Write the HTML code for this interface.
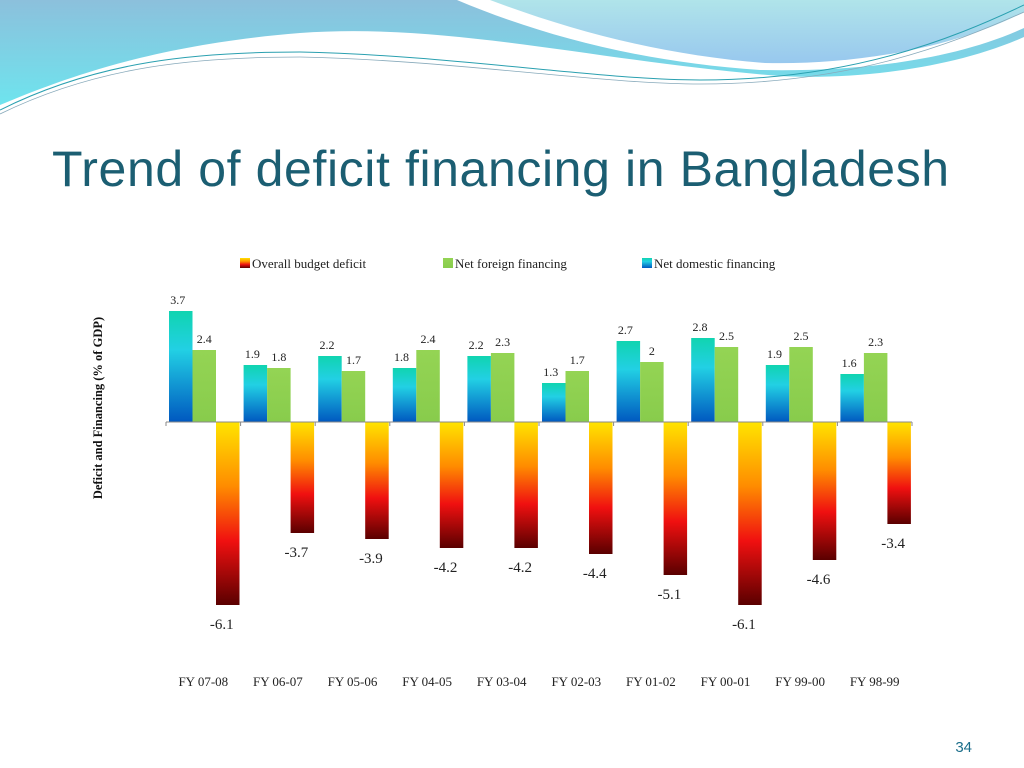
<!DOCTYPE html>
<html><head><meta charset="utf-8"><style>
body{margin:0;width:1024px;height:768px;overflow:hidden;background:#fff;font-family:"Liberation Serif",serif;}
#title{position:absolute;left:52px;top:140px;font-family:"Liberation Sans",sans-serif;font-size:50px;letter-spacing:0.6px;color:#1b5e72;white-space:nowrap;}
</style></head><body>
<svg width="1024" height="140" style="position:absolute;left:0;top:0">
<defs>
<linearGradient id="hb" x1="0" y1="0" x2="0" y2="1"><stop offset="0" stop-color="#8cc0dc"/><stop offset="1" stop-color="#6ee4ee"/></linearGradient>
<linearGradient id="tr" x1="0" y1="0" x2="0" y2="1"><stop offset="0" stop-color="#b0e4ea"/><stop offset="1" stop-color="#98c8ee"/></linearGradient>
</defs>
<path d="M0,0 H1024 V37 C950,70 850,80 780,76 C600,62 450,22 300,33 C150,45 60,80 0,105 Z" fill="url(#hb)"/>
<path d="M457,0 H1024 V28 C950,62 850,72 760,70 C640,62 540,35 457,0 Z" fill="#fff"/>
<path d="M490,0 H1024 V12 C950,50 850,65 765,63 C660,55 570,30 490,0 Z" fill="url(#tr)"/>
<path d="M0,110 C100,60 200,52 300,52 C450,55 600,80 700,80 C850,80 950,40 1024,5" fill="none" stroke="#2aa0b0" stroke-width="1"/>
<path d="M0,114 C100,65 200,57 300,57 C450,60 600,84 700,84 C850,84 950,45 1024,12" fill="none" stroke="#8ab" stroke-width="0.8"/>
</svg>
<div id="title">Trend of deficit financing in Bangladesh</div>
<svg id="chart" width="1024" height="768" style="position:absolute;left:0;top:0">
<defs>
<linearGradient id="gd" x1="0" y1="0" x2="0" y2="1"><stop offset="0" stop-color="#10d4b0"/><stop offset="0.35" stop-color="#22d0e4"/><stop offset="1" stop-color="#0058c0"/></linearGradient>
<linearGradient id="gf" x1="0" y1="0" x2="0" y2="1"><stop offset="0" stop-color="#94d454"/><stop offset="1" stop-color="#88cc4c"/></linearGradient>
<linearGradient id="gb" x1="0" y1="0" x2="0" y2="1"><stop offset="0" stop-color="#ffe400"/><stop offset="0.35" stop-color="#ff8c00"/><stop offset="0.65" stop-color="#f01010"/><stop offset="1" stop-color="#5a0000"/></linearGradient>
</defs>
<g id="legend" font-size="13" fill="#222">
<rect x="240" y="258" width="10" height="10" fill="url(#gb)"/><text x="252" y="268">Overall budget deficit</text>
<rect x="443" y="258" width="10" height="10" fill="url(#gf)"/><text x="455" y="268">Net foreign financing</text>
<rect x="642" y="258" width="10" height="10" fill="url(#gd)"/><text x="654" y="268">Net domestic financing</text>
</g>
<text transform="translate(102,408) rotate(-90)" text-anchor="middle" font-size="12.5" font-weight="bold" fill="#111">Deficit and Financing (% of GDP)</text>
<g id="marks"></g>
<text x="972" y="752" text-anchor="end" font-size="15" fill="#1b6e8a" font-family="Liberation Sans, sans-serif">34</text>
</svg>
<script>
const categories=["FY 07-08","FY 06-07","FY 05-06","FY 04-05","FY 03-04","FY 02-03","FY 01-02","FY 00-01","FY 99-00","FY 98-99"];
const domestic=[3.7,1.9,2.2,1.8,2.2,1.3,2.7,2.8,1.9,1.6];
const foreign=[2.4,1.8,1.7,2.4,2.3,1.7,2,2.5,2.5,2.3];
const deficit=[-6.1,-3.7,-3.9,-4.2,-4.2,-4.4,-5.1,-6.1,-4.6,-3.4];
const ns="http://www.w3.org/2000/svg";
const g=document.getElementById('marks');
const x0=166,x1=912,y0=422,ppu=30;
const gw=(x1-x0)/categories.length,bw=23.5;
const y=v=>y0-v*ppu;
function mk(t,a){const e=document.createElementNS(ns,t);for(const k in a)e.setAttribute(k,a[k]);g.appendChild(e);return e;}
function bar(xx,v,fill){const top=Math.min(y(v),y0),h=Math.abs(y(v)-y0);return mk('rect',{x:xx,y:top,width:bw,height:h,fill:fill});}
function lbl(xx,yy,s,fs){const t=mk('text',{x:xx,y:yy,'text-anchor':'middle','font-size':fs,fill:'#222'});t.textContent=s;return t;}
categories.forEach((c,i)=>{
 const gx=x0+i*gw+3;
 let e=bar(gx,domestic[i],'url(#gd)');
 
 
 e=bar(gx+bw,foreign[i],'url(#gf)');
 
 
 e=bar(gx+2*bw,deficit[i],'url(#gb)');
 
 
 e=lbl(gx+bw/2-3,y(domestic[i])-7,String(domestic[i]),12);
 
 
 e=lbl(gx+bw*1.5,y(foreign[i])-7,String(foreign[i]),12);
 
 
 e=lbl(gx+bw*2.5-6,y(deficit[i])+24,String(deficit[i]),15);
 
 
 e=lbl(x0+i*gw+gw/2,686,c,13);
 
 
});
let ax=mk('line',{x1:x0,x2:x1,y1:y0,y2:y0,stroke:'#888','stroke-width':1});


for(let i=0;i<=categories.length;i++){
 const t=mk('line',{x1:x0+i*gw,x2:x0+i*gw,y1:y0,y2:y0+4,stroke:'#888'});
 
 
}
</script>
</body></html>
